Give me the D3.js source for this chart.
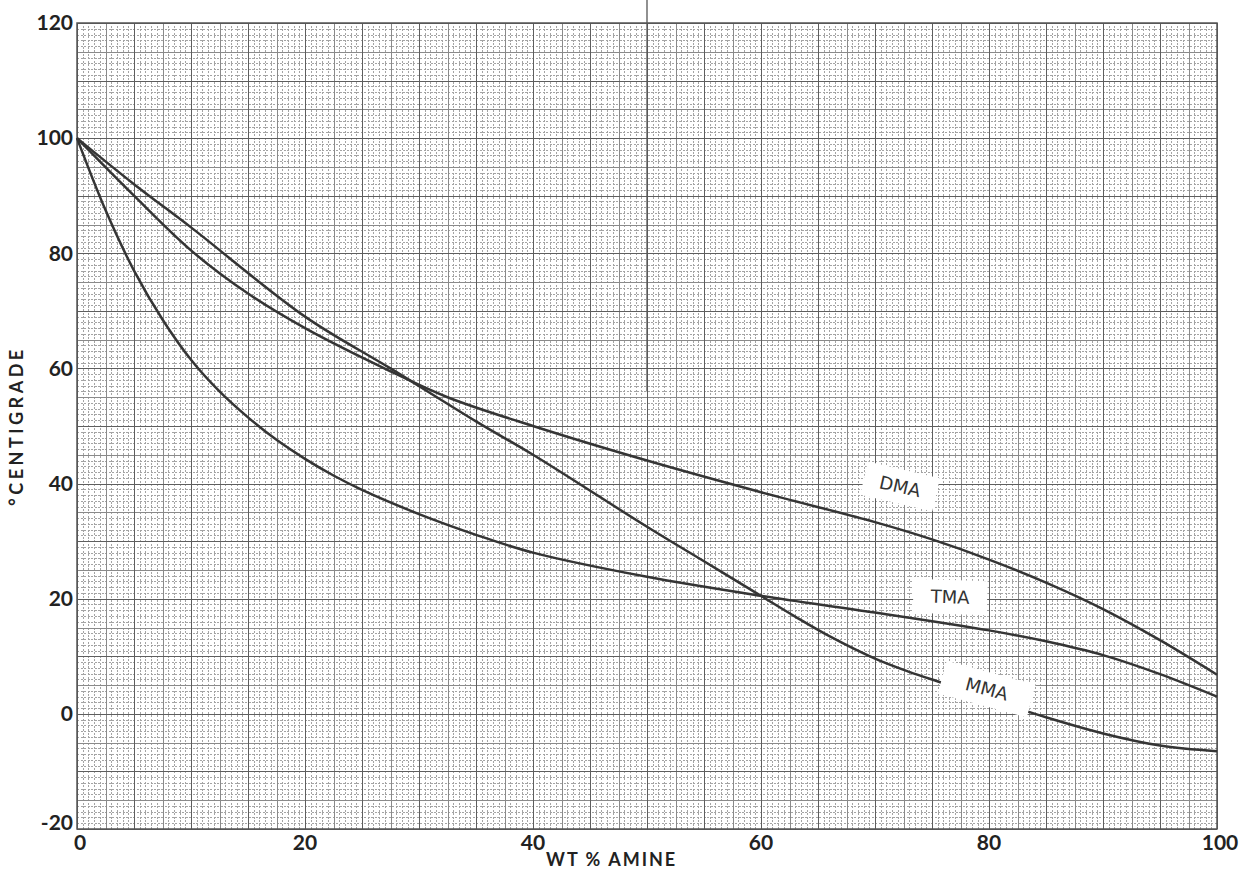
<!DOCTYPE html>
<html>
<head>
	<meta charset="utf-8" />
	<style>
		body {
			margin: 0;
			background-color: #fff;
			font-family: 'Lato', 'DejaVu Sans', sans-serif;
		}
		.fine line { stroke: #a4a4a4; stroke-width: 1; stroke-dasharray: 2,1.5; shape-rendering: crispEdges; }
		.mid line { stroke: #8a8a8a; stroke-width: 1; shape-rendering: crispEdges; }
		.major line { stroke: #5e5e5e; stroke-width: 1; shape-rendering: crispEdges; }
		.grid path { stroke-width: 0; }
		.curve { fill: none; stroke: #353535; stroke-width: 2.5; }
		.tick-label { font-size: 21px; fill: #222; font-weight: 700; }
		.axis-title { font-size: 18px; fill: #222; font-weight: 700; letter-spacing: 2px; }
		.curve-label { font-family: 'DejaVu Sans', sans-serif; font-size: 18px; fill: #333; }
	</style>
</head>
<body>
<div class='chart'></div>

<script src="https://d3js.org/d3.v7.min.js"></script>
<script>

//// data ////
var xTicks = [0, 20, 40, 60, 80, 100];
var yTicks = [-20, 0, 20, 40, 60, 80, 100, 120];

var dmaX = [0, 5, 10, 15, 20, 27.5, 32.5, 40, 50, 60, 70, 75, 80, 85, 90, 95, 100];
var dmaY = [100, 90, 80.5, 73, 67, 59.5, 55, 50, 44, 38.5, 33.3, 30.3, 26.8, 22.8, 18.2, 12.8, 6.8];

var mmaX = [0, 5, 10, 20, 27.5, 35, 40, 50, 55, 60, 63, 66, 70, 73, 76, 80, 85, 90, 95, 100];
var mmaY = [100, 92, 84.5, 69, 60, 50.8, 45, 32.5, 26.5, 20.5, 16.9, 13.5, 9.6, 7.3, 5.3, 2.6, -0.6, -3.4, -5.5, -6.5];

var tmaX = [0, 2.5, 5, 7.5, 10, 12.5, 15, 17.5, 20, 22.5, 25, 30, 35, 40, 50, 60, 70, 80, 85, 90, 95, 100];
var tmaY = [100, 87.5, 77, 68.5, 61.5, 56, 51.5, 47.6, 44.3, 41.4, 38.9, 34.7, 31.1, 28, 23.8, 20.5, 17.6, 14.5, 12.6, 10.2, 6.9, 3];

var labelNames = ['DMA', 'TMA', 'MMA'];
var labelX = [72.2, 76.6, 79.8];
var labelY = [39.5, 20.3, 4.3];
var labelAngle = [13, 2, 15];

//// layout ////
var margin = {top: 23, right: 25, bottom: 53, left: 77},
    width = 1242 - margin.left - margin.right,
    height = 882 - margin.top - margin.bottom;

var x = d3.scaleLinear().domain([0, 100]).range([0, width]);
var y = d3.scaleLinear().domain([-20, 120]).range([height, 0]);

var svg = d3.select(".chart").append("svg")
    .attr("width", 1242)
    .attr("height", 882)
  .append("g")
    .attr("transform", "translate(" + margin.left + "," + margin.top + ")");

// graph paper
function gridPair(cls, xs, ys) {
  svg.append("g").attr("class", "grid " + cls)
      .attr("transform", "translate(0," + height + ")")
      .call(d3.axisBottom(x).tickValues(xs).tickSize(-height).tickFormat(""));
  svg.append("g").attr("class", "grid " + cls)
      .call(d3.axisLeft(y).tickValues(ys).tickSize(-width).tickFormat(""));
}
gridPair("fine", d3.range(0, 100.01, 0.5), d3.range(-20, 120.01, 1));
gridPair("mid", d3.range(0, 100.01, 2.5), d3.range(-20, 120.01, 5));
gridPair("major", d3.range(0, 100.01, 5), d3.range(-20, 120.01, 10));

svg.append("rect")
    .attr("width", width).attr("height", height)
    .attr("fill", "none").attr("stroke", "#555").attr("stroke-width", 1.5);

// stray fold line on the scan
svg.append("line")
    .attr("x1", x(50)).attr("x2", x(50))
    .attr("y1", -margin.top).attr("y2", y(56))
    .attr("stroke", "#555").attr("stroke-width", 1.3);

// curves
var line = d3.line()
    .x(function(d) { return x(d[0]); })
    .y(function(d) { return y(d[1]); })
    .curve(d3.curveCatmullRom.alpha(0.5));

[[dmaX, dmaY], [tmaX, tmaY], [mmaX, mmaY]].forEach(function(s) {
  svg.append("path")
      .datum(d3.zip(s[0], s[1]))
      .attr("class", "curve")
      .attr("d", line);
});

// curve labels on white patches
labelNames.forEach(function(name, i) {
  var g = svg.append("g")
      .attr("transform", "translate(" + x(labelX[i]) + "," + y(labelY[i]) + ") rotate(" + labelAngle[i] + ")");
  var w = name === 'MMA' ? 92 : 74;
  g.append("rect")
      .attr("x", -w / 2).attr("y", -17).attr("width", w).attr("height", 34)
      .attr("fill", "#fff");
  g.append("text")
      .attr("class", "curve-label")
      .attr("text-anchor", "middle")
      .attr("dy", "0.35em")
      .text(name);
});

// tick labels
svg.selectAll(".ylab")
    .data(yTicks)
  .enter().append("text")
    .attr("class", "tick-label")
    .attr("x", -4)
    .attr("y", function(d) { return y(d) + (d === -20 ? -6 : 0); })
    .attr("dy", "0.35em")
    .attr("text-anchor", "end")
    .text(function(d) { return d; });

svg.selectAll(".xlab")
    .data(xTicks)
  .enter().append("text")
    .attr("class", "tick-label")
    .attr("x", function(d) { return x(d) + (d === 100 ? 3 : (d === 0 ? 3 : 0)); })
    .attr("y", height + 14)
    .attr("dy", "0.35em")
    .attr("text-anchor", "middle")
    .text(function(d) { return d; });

svg.append("text")
    .attr("class", "axis-title")
    .attr("x", x(46.9))
    .attr("y", height + 37)
    .attr("text-anchor", "middle")
    .text("WT % AMINE");

svg.append("text")
    .attr("class", "axis-title")
    .attr("transform", "translate(" + (-54) + "," + y(50) + ") rotate(-90)")
    .attr("text-anchor", "middle")
    .style("letter-spacing", "3.5px")
    .text("°CENTIGRADE");

</script>
</body>
</html>
